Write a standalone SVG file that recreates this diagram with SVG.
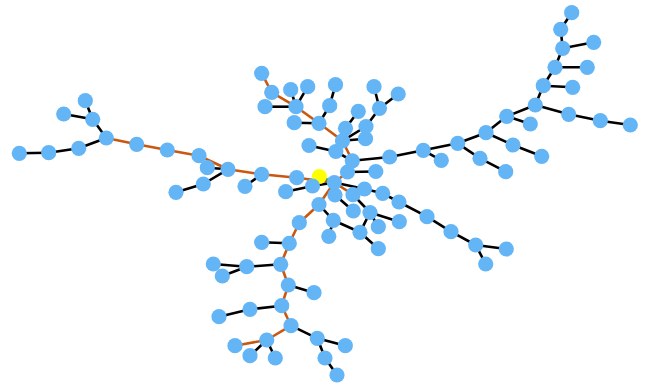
<svg xmlns="http://www.w3.org/2000/svg" width="653" height="385" viewBox="0 0 653 385">
<style>
.e{stroke:#000;stroke-width:2.6;fill:none}
.o{stroke:#c8580f;stroke-width:2.6;fill:none}
.g{stroke:#2a9a2a;stroke-width:2.6;fill:none}
.n{fill:#64b5f6}
.r{fill:#ffff00}
</style>
<rect width="653" height="385" fill="#fff"/>
<g id="connectors">
<line class="e" x1="19.3" y1="153.3" x2="48.7" y2="152.7"/>
<line class="e" x1="48.7" y1="152.7" x2="78.7" y2="148.3"/>
<line class="e" x1="78.7" y1="148.3" x2="106.3" y2="138"/>
<line class="e" x1="106.3" y1="138" x2="92.7" y2="119.3"/>
<line class="e" x1="92.7" y1="119.3" x2="63.7" y2="114"/>
<line class="e" x1="92.7" y1="119.3" x2="85.3" y2="100.7"/>
<line class="o" x1="106.3" y1="138" x2="136.7" y2="144.3"/>
<line class="o" x1="136.7" y1="144.3" x2="167.3" y2="150"/>
<line class="o" x1="167.3" y1="150" x2="199" y2="155.7"/>
<line class="o" x1="199" y1="155.7" x2="228" y2="169.3"/>
<line class="e" x1="228" y1="169.3" x2="207.3" y2="167.7"/>
<line class="e" x1="228" y1="169.3" x2="203.3" y2="184"/>
<line class="e" x1="203.3" y1="184" x2="176" y2="192.3"/>
<line class="o" x1="228" y1="169.3" x2="261.7" y2="174.3"/>
<line class="e" x1="261.7" y1="174.3" x2="245" y2="186.3"/>
<line class="o" x1="261.7" y1="174.3" x2="296.7" y2="177.7"/>
<line class="o" x1="296.7" y1="177.7" x2="334.3" y2="182.5"/>
<line class="e" x1="312.5" y1="186" x2="285.7" y2="191.7"/>
<line class="e" x1="312.5" y1="186" x2="334.3" y2="182.5"/>
<line class="g" x1="319.3" y1="176.5" x2="334.3" y2="182.5"/>
<line class="o" x1="261.7" y1="73.3" x2="271.7" y2="92.3"/>
<line class="o" x1="271.7" y1="92.3" x2="296" y2="106.7"/>
<line class="e" x1="290.7" y1="89.7" x2="296" y2="106.7"/>
<line class="e" x1="307.7" y1="86.7" x2="296" y2="106.7"/>
<line class="e" x1="265" y1="106.7" x2="296" y2="106.7"/>
<line class="o" x1="296" y1="106.7" x2="319" y2="123.3"/>
<line class="e" x1="294.2" y1="122.7" x2="319" y2="123.3"/>
<line class="e" x1="335.5" y1="84.7" x2="329.7" y2="105.7"/>
<line class="e" x1="329.7" y1="105.7" x2="319" y2="123.3"/>
<line class="o" x1="319" y1="123.3" x2="342.5" y2="140.8"/>
<line class="e" x1="374" y1="86.7" x2="379.5" y2="108.3"/>
<line class="e" x1="398.2" y1="94" x2="379.5" y2="108.3"/>
<line class="e" x1="379.5" y1="108.3" x2="366" y2="126.5"/>
<line class="e" x1="358.3" y1="111.3" x2="345.5" y2="128.3"/>
<line class="e" x1="345.5" y1="128.3" x2="342.5" y2="140.8"/>
<line class="e" x1="366" y1="126.5" x2="342.5" y2="140.8"/>
<line class="e" x1="365.5" y1="138.7" x2="342.5" y2="140.8"/>
<line class="o" x1="342.5" y1="140.8" x2="352.3" y2="160.8"/>
<line class="e" x1="309" y1="145.5" x2="335.8" y2="151.5"/>
<line class="e" x1="335.8" y1="151.5" x2="352.3" y2="160.8"/>
<line class="e" x1="352.3" y1="160.8" x2="389.7" y2="157"/>
<line class="o" x1="352.3" y1="160.8" x2="347.5" y2="172"/>
<line class="e" x1="347.5" y1="172" x2="375.8" y2="171.5"/>
<line class="o" x1="347.5" y1="172" x2="334.3" y2="182.5"/>
<line class="e" x1="389.7" y1="157" x2="423.3" y2="150.3"/>
<line class="e" x1="423.3" y1="150.3" x2="441.3" y2="160.3"/>
<line class="e" x1="423.3" y1="150.3" x2="457.7" y2="143.3"/>
<line class="e" x1="457.7" y1="143.3" x2="480" y2="158.3"/>
<line class="e" x1="480" y1="158.3" x2="505.7" y2="171.7"/>
<line class="e" x1="457.7" y1="143.3" x2="486" y2="132.7"/>
<line class="e" x1="486" y1="132.7" x2="513" y2="145"/>
<line class="e" x1="513" y1="145" x2="541.7" y2="156.3"/>
<line class="e" x1="486" y1="132.7" x2="506.7" y2="116.3"/>
<line class="e" x1="506.7" y1="116.3" x2="530.3" y2="124"/>
<line class="e" x1="506.7" y1="116.3" x2="535.3" y2="105"/>
<line class="e" x1="535.3" y1="105" x2="568.7" y2="114.3"/>
<line class="e" x1="568.7" y1="114.3" x2="600.3" y2="120.7"/>
<line class="e" x1="600.3" y1="120.7" x2="630.3" y2="125"/>
<line class="e" x1="535.3" y1="105" x2="543.3" y2="85.7"/>
<line class="e" x1="543.3" y1="85.7" x2="572.7" y2="87.3"/>
<line class="e" x1="543.3" y1="85.7" x2="555" y2="67.3"/>
<line class="e" x1="555" y1="67.3" x2="587.3" y2="67.3"/>
<line class="e" x1="555" y1="67.3" x2="562.7" y2="48.3"/>
<line class="e" x1="562.7" y1="48.3" x2="593.7" y2="42.3"/>
<line class="e" x1="562.7" y1="48.3" x2="560.7" y2="29.3"/>
<line class="e" x1="560.7" y1="29.3" x2="571.7" y2="12.7"/>
<line class="e" x1="334.3" y1="182.5" x2="335" y2="195"/>
<line class="e" x1="334.3" y1="182.5" x2="364.5" y2="189"/>
<line class="o" x1="334.3" y1="182.5" x2="353" y2="194.7"/>
<line class="e" x1="364.5" y1="189" x2="382.7" y2="193.3"/>
<line class="e" x1="382.7" y1="193.3" x2="399" y2="202"/>
<line class="e" x1="399" y1="202" x2="427" y2="216.7"/>
<line class="e" x1="427" y1="216.7" x2="451" y2="231.7"/>
<line class="e" x1="451" y1="231.7" x2="475.7" y2="245"/>
<line class="e" x1="475.7" y1="245" x2="506.3" y2="249"/>
<line class="e" x1="475.7" y1="245" x2="485.7" y2="264"/>
<line class="e" x1="335" y1="195" x2="353.3" y2="211"/>
<line class="e" x1="353" y1="194.7" x2="370" y2="212.5"/>
<line class="e" x1="370" y1="212.5" x2="399.3" y2="221.7"/>
<line class="e" x1="370" y1="212.5" x2="378.3" y2="226.7"/>
<line class="e" x1="370" y1="212.5" x2="360" y2="232.3"/>
<line class="e" x1="360" y1="232.3" x2="378.3" y2="248.7"/>
<line class="e" x1="333.3" y1="220.3" x2="360" y2="232.3"/>
<line class="e" x1="333.3" y1="220.3" x2="328.8" y2="236.3"/>
<line class="e" x1="319" y1="204.5" x2="333.3" y2="220.3"/>
<line class="o" x1="334.3" y1="182.5" x2="319" y2="204.5"/>
<line class="o" x1="319" y1="204.5" x2="299.3" y2="222.7"/>
<line class="o" x1="299.3" y1="222.7" x2="289.3" y2="243.3"/>
<line class="e" x1="289.3" y1="243.3" x2="261.7" y2="242.3"/>
<line class="o" x1="289.3" y1="243.3" x2="280.7" y2="264.3"/>
<line class="e" x1="280.7" y1="264.3" x2="246.7" y2="266.7"/>
<line class="e" x1="246.7" y1="266.7" x2="213.3" y2="264"/>
<line class="e" x1="246.7" y1="266.7" x2="222.3" y2="276"/>
<line class="o" x1="280.7" y1="264.3" x2="288.3" y2="285"/>
<line class="e" x1="288.3" y1="285" x2="314" y2="292.7"/>
<line class="o" x1="288.3" y1="285" x2="281.7" y2="305.7"/>
<line class="e" x1="281.7" y1="305.7" x2="250" y2="309.3"/>
<line class="e" x1="250" y1="309.3" x2="219" y2="316.7"/>
<line class="o" x1="281.7" y1="305.7" x2="291" y2="325.7"/>
<line class="o" x1="291" y1="325.7" x2="266.7" y2="340"/>
<line class="o" x1="266.7" y1="340" x2="235" y2="345.7"/>
<line class="e" x1="266.7" y1="340" x2="250" y2="355.7"/>
<line class="e" x1="266.7" y1="340" x2="275.3" y2="358"/>
<line class="e" x1="291" y1="325.7" x2="317.3" y2="338.3"/>
<line class="e" x1="317.3" y1="338.3" x2="345.3" y2="345.7"/>
<line class="e" x1="317.3" y1="338.3" x2="325" y2="358"/>
<line class="e" x1="325" y1="358" x2="337" y2="375"/>
</g>
<defs><circle id="c" r="7.6"/></defs>
<g id="A1" class="n"><use href="#c" x="19.3" y="153.3"/></g>
<g id="A2" class="n"><use href="#c" x="48.7" y="152.7"/></g>
<g id="A3" class="n"><use href="#c" x="78.7" y="148.3"/></g>
<g id="A4" class="n"><use href="#c" x="106.3" y="138"/></g>
<g id="A5" class="n"><use href="#c" x="92.7" y="119.3"/></g>
<g id="A6" class="n"><use href="#c" x="63.7" y="114"/></g>
<g id="A7" class="n"><use href="#c" x="85.3" y="100.7"/></g>
<g id="A8" class="n"><use href="#c" x="136.7" y="144.3"/></g>
<g id="A9" class="n"><use href="#c" x="167.3" y="150"/></g>
<g id="A10" class="n"><use href="#c" x="199" y="155.7"/></g>
<g id="A12" class="n"><use href="#c" x="207.3" y="167.7"/></g>
<g id="A11" class="n"><use href="#c" x="228" y="169.3"/></g>
<g id="A13" class="n"><use href="#c" x="203.3" y="184"/></g>
<g id="A14" class="n"><use href="#c" x="176" y="192.3"/></g>
<g id="A15" class="n"><use href="#c" x="261.7" y="174.3"/></g>
<g id="A16" class="n"><use href="#c" x="245" y="186.3"/></g>
<g id="A17" class="n"><use href="#c" x="296.7" y="177.7"/></g>
<g id="A19" class="n"><use href="#c" x="285.7" y="191.7"/></g>
<g id="B1" class="n"><use href="#c" x="261.7" y="73.3"/></g>
<g id="B2" class="n"><use href="#c" x="271.7" y="92.3"/></g>
<g id="B3" class="n"><use href="#c" x="290.7" y="89.7"/></g>
<g id="B4" class="n"><use href="#c" x="307.7" y="86.7"/></g>
<g id="B5" class="n"><use href="#c" x="265" y="106.7"/></g>
<g id="B6" class="n"><use href="#c" x="296" y="106.7"/></g>
<g id="B7" class="n"><use href="#c" x="335.5" y="84.7"/></g>
<g id="B8" class="n"><use href="#c" x="329.7" y="105.7"/></g>
<g id="B9" class="n"><use href="#c" x="294.2" y="122.7"/></g>
<g id="B10" class="n"><use href="#c" x="319" y="123.3"/></g>
<g id="B11" class="n"><use href="#c" x="374" y="86.7"/></g>
<g id="B12" class="n"><use href="#c" x="398.2" y="94"/></g>
<g id="B13" class="n"><use href="#c" x="379.5" y="108.3"/></g>
<g id="B14" class="n"><use href="#c" x="358.3" y="111.3"/></g>
<g id="B15" class="n"><use href="#c" x="345.5" y="128.3"/></g>
<g id="B16" class="n"><use href="#c" x="366" y="126.5"/></g>
<g id="B17" class="n"><use href="#c" x="365.5" y="138.7"/></g>
<g id="B18" class="n"><use href="#c" x="342.5" y="140.8"/></g>
<g id="B19" class="n"><use href="#c" x="309" y="145.5"/></g>
<g id="B20" class="n"><use href="#c" x="335.8" y="151.5"/></g>
<g id="B21" class="n"><use href="#c" x="352.3" y="160.8"/></g>
<g id="B22" class="n"><use href="#c" x="389.7" y="157"/></g>
<g id="B24" class="n"><use href="#c" x="347.5" y="172"/></g>
<g id="B25" class="n"><use href="#c" x="375.8" y="171.5"/></g>
<g id="E21" class="n"><use href="#c" x="423.3" y="150.3"/></g>
<g id="E22" class="n"><use href="#c" x="441.3" y="160.3"/></g>
<g id="E18" class="n"><use href="#c" x="457.7" y="143.3"/></g>
<g id="E19" class="n"><use href="#c" x="480" y="158.3"/></g>
<g id="E20" class="n"><use href="#c" x="505.7" y="171.7"/></g>
<g id="E15" class="n"><use href="#c" x="486" y="132.7"/></g>
<g id="E16" class="n"><use href="#c" x="513" y="145"/></g>
<g id="E17" class="n"><use href="#c" x="541.7" y="156.3"/></g>
<g id="E13" class="n"><use href="#c" x="506.7" y="116.3"/></g>
<g id="E14" class="n"><use href="#c" x="530.3" y="124"/></g>
<g id="E9" class="n"><use href="#c" x="535.3" y="105"/></g>
<g id="E10" class="n"><use href="#c" x="568.7" y="114.3"/></g>
<g id="E11" class="n"><use href="#c" x="600.3" y="120.7"/></g>
<g id="E12" class="n"><use href="#c" x="630.3" y="125"/></g>
<g id="E7" class="n"><use href="#c" x="543.3" y="85.7"/></g>
<g id="E8" class="n"><use href="#c" x="572.7" y="87.3"/></g>
<g id="E5" class="n"><use href="#c" x="555" y="67.3"/></g>
<g id="E6" class="n"><use href="#c" x="587.3" y="67.3"/></g>
<g id="E3" class="n"><use href="#c" x="562.7" y="48.3"/></g>
<g id="E4" class="n"><use href="#c" x="593.7" y="42.3"/></g>
<g id="E2" class="n"><use href="#c" x="560.7" y="29.3"/></g>
<g id="E1" class="n"><use href="#c" x="571.7" y="12.7"/></g>
<g id="root" class="r"><use href="#c" x="319.3" y="176.5"/></g>
<g id="A18" class="n"><use href="#c" x="312.5" y="186"/></g>
<g id="C0" class="n"><use href="#c" x="334.3" y="182.5"/></g>
<g id="C1" class="n"><use href="#c" x="335" y="195"/></g>
<g id="C2" class="n"><use href="#c" x="364.5" y="189"/></g>
<g id="C3" class="n"><use href="#c" x="353" y="194.7"/></g>
<g id="C4" class="n"><use href="#c" x="382.7" y="193.3"/></g>
<g id="C5" class="n"><use href="#c" x="399" y="202"/></g>
<g id="C6" class="n"><use href="#c" x="353.3" y="211"/></g>
<g id="C7" class="n"><use href="#c" x="370" y="212.5"/></g>
<g id="C8" class="n"><use href="#c" x="378.3" y="226.7"/></g>
<g id="C9" class="n"><use href="#c" x="399.3" y="221.7"/></g>
<g id="C10" class="n"><use href="#c" x="333.3" y="220.3"/></g>
<g id="C11" class="n"><use href="#c" x="328.8" y="236.3"/></g>
<g id="C12" class="n"><use href="#c" x="360" y="232.3"/></g>
<g id="C13" class="n"><use href="#c" x="378.3" y="248.7"/></g>
<g id="C14" class="n"><use href="#c" x="427" y="216.7"/></g>
<g id="F1" class="n"><use href="#c" x="451" y="231.7"/></g>
<g id="F2" class="n"><use href="#c" x="475.7" y="245"/></g>
<g id="F3" class="n"><use href="#c" x="506.3" y="249"/></g>
<g id="F4" class="n"><use href="#c" x="485.7" y="264"/></g>
<g id="A20" class="n"><use href="#c" x="319" y="204.5"/></g>
<g id="D1" class="n"><use href="#c" x="299.3" y="222.7"/></g>
<g id="D2" class="n"><use href="#c" x="289.3" y="243.3"/></g>
<g id="D3" class="n"><use href="#c" x="261.7" y="242.3"/></g>
<g id="D4" class="n"><use href="#c" x="280.7" y="264.3"/></g>
<g id="D5" class="n"><use href="#c" x="246.7" y="266.7"/></g>
<g id="D6" class="n"><use href="#c" x="213.3" y="264"/></g>
<g id="D7" class="n"><use href="#c" x="222.3" y="276"/></g>
<g id="D8" class="n"><use href="#c" x="288.3" y="285"/></g>
<g id="D9" class="n"><use href="#c" x="314" y="292.7"/></g>
<g id="D10" class="n"><use href="#c" x="281.7" y="305.7"/></g>
<g id="D11" class="n"><use href="#c" x="250" y="309.3"/></g>
<g id="D12" class="n"><use href="#c" x="219" y="316.7"/></g>
<g id="D13" class="n"><use href="#c" x="291" y="325.7"/></g>
<g id="D14" class="n"><use href="#c" x="266.7" y="340"/></g>
<g id="D15" class="n"><use href="#c" x="235" y="345.7"/></g>
<g id="D16" class="n"><use href="#c" x="250" y="355.7"/></g>
<g id="D17" class="n"><use href="#c" x="275.3" y="358"/></g>
<g id="D18" class="n"><use href="#c" x="317.3" y="338.3"/></g>
<g id="D19" class="n"><use href="#c" x="345.3" y="345.7"/></g>
<g id="D20" class="n"><use href="#c" x="325" y="358"/></g>
<g id="D21" class="n"><use href="#c" x="337" y="375"/></g>
</svg>
